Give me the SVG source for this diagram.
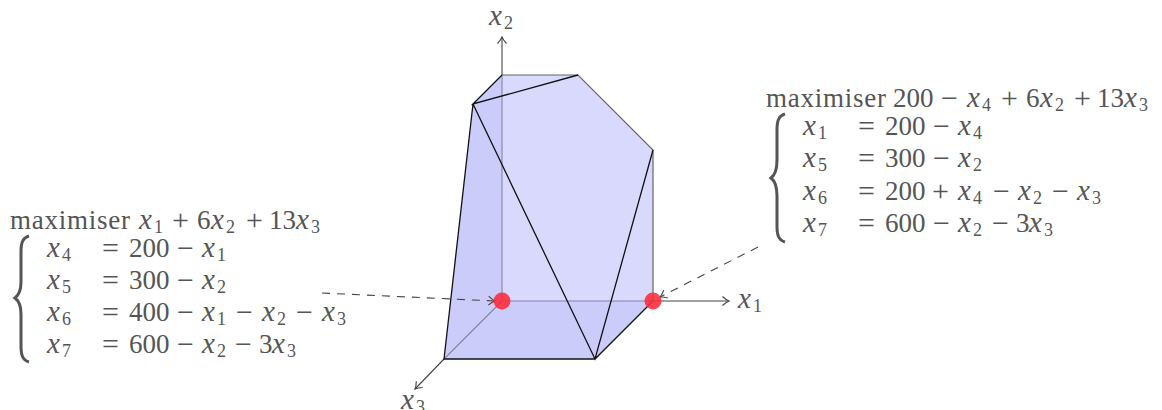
<svg xmlns="http://www.w3.org/2000/svg" width="1162" height="410" viewBox="0 0 1162 410">
<style>
text{font-family:"Liberation Serif",serif;fill:#555}
.r{font-size:27px}
.i{font-size:29px;font-style:italic}
.s{font-size:18px}
.o{font-size:30px;baseline-shift:-1px}
.ax{fill:none;stroke:#444;stroke-width:1.1}
.in{fill:none;stroke:#8484a4;stroke-width:1.1}
.e{fill:none;stroke:#111;stroke-width:1.3}
.g{fill:none;stroke:#666;stroke-width:1.2}
.d{fill:none;stroke:#444;stroke-width:1.1;stroke-dasharray:8 7}
.b{fill:none;stroke:#555;stroke-width:3}
.p{fill:#ff2a3a;fill-opacity:.88}
</style>
<defs>
<marker id="a" markerUnits="userSpaceOnUse" markerWidth="14" markerHeight="14" refX="10" refY="7" orient="auto">
<path d="M3.500 2.500Q7 5.800 10 7Q7 8.200 3.500 11.500" fill="none" stroke="#444" stroke-width="1.1"/>
</marker>
</defs>
<g id="polytope">
<polygon points="502,75 578,75 653,150 653,301 595,359 444,359 473,104" fill="#d9d9fd"/>
<polygon points="502,75 473,104 444,359 595,359 653,301 502,301" fill="#ccccfb"/>
</g>
<g id="connectors">
<path class="ax" d="M502 75V37" marker-end="url(#a)"/>
<path class="ax" d="M653 301H729" marker-end="url(#a)"/>
<path class="ax" d="M444 359L415 389" marker-end="url(#a)"/>
<path class="in" d="M502 75V301H653M502 301L444 359"/>
<path class="g" d="M502 75H578L653 150V301"/>
<path class="e" d="M502 75L473 104L578 75M473 104L595 359L653 150M473 104L444 359H595L653 301"/>
<path class="d" d="M322 293L495 301" marker-end="url(#a)"/>
<path class="d" d="M758 247L660 297" marker-end="url(#a)"/>
</g>
<g id="point-origin"><circle class="p" cx="502" cy="301" r="8.500"/></g>
<g id="point-x1"><circle class="p" cx="653" cy="301" r="8.500"/></g>
<g id="axis-labels">
<text><tspan class="i" x="489" y="25">x</tspan><tspan class="s" x="504" y="29">2</tspan></text>
<text><tspan class="i" x="738" y="308">x</tspan><tspan class="s" x="753" y="312">1</tspan></text>
<text><tspan class="i" x="401" y="409">x</tspan><tspan class="s" x="416" y="413">3</tspan></text>
</g>
<g id="left-system">
<text><tspan class="r" x="10" y="229" letter-spacing="0.750">maximiser</tspan><tspan class="i" x="139" y="229">x</tspan><tspan class="s" x="154" y="233">1</tspan><tspan class="o" x="172" y="229">+</tspan><tspan class="r" x="197" y="229">6</tspan><tspan class="i" x="211" y="229">x</tspan><tspan class="s" x="226" y="233">2</tspan><tspan class="o" x="246" y="229">+</tspan><tspan class="r" x="269" y="229">13</tspan><tspan class="i" x="296" y="229">x</tspan><tspan class="s" x="311" y="233">3</tspan></text>
<path class="b" d="M29 236C22 238 21 244 21 252V282C21 291 19 295 15 298C19 301 21 305 21 314V346C21 354 22 360 29 362"/>
<text><tspan class="i" x="47" y="257">x</tspan><tspan class="s" x="62" y="261">4</tspan><tspan class="o" x="102" y="257">=</tspan><tspan class="r" x="129" y="257">200</tspan><tspan class="o" x="177" y="257">−</tspan><tspan class="i" x="202" y="257">x</tspan><tspan class="s" x="217" y="261">1</tspan></text>
<text><tspan class="i" x="47" y="289">x</tspan><tspan class="s" x="62" y="293">5</tspan><tspan class="o" x="102" y="289">=</tspan><tspan class="r" x="129" y="289">300</tspan><tspan class="o" x="177" y="289">−</tspan><tspan class="i" x="202" y="289">x</tspan><tspan class="s" x="217" y="293">2</tspan></text>
<text><tspan class="i" x="47" y="321">x</tspan><tspan class="s" x="62" y="325">6</tspan><tspan class="o" x="102" y="321">=</tspan><tspan class="r" x="129" y="321">400</tspan><tspan class="o" x="177" y="321">−</tspan><tspan class="i" x="202" y="321">x</tspan><tspan class="s" x="217" y="325">1</tspan><tspan class="o" x="236" y="321">−</tspan><tspan class="i" x="262" y="321">x</tspan><tspan class="s" x="277" y="325">2</tspan><tspan class="o" x="296" y="321">−</tspan><tspan class="i" x="322" y="321">x</tspan><tspan class="s" x="337" y="325">3</tspan></text>
<text><tspan class="i" x="47" y="353">x</tspan><tspan class="s" x="62" y="357">7</tspan><tspan class="o" x="102" y="353">=</tspan><tspan class="r" x="129" y="353">600</tspan><tspan class="o" x="177" y="353">−</tspan><tspan class="i" x="202" y="353">x</tspan><tspan class="s" x="217" y="357">2</tspan><tspan class="o" x="235" y="353">−</tspan><tspan class="r" x="259" y="353">3</tspan><tspan class="i" x="272" y="353">x</tspan><tspan class="s" x="287" y="357">3</tspan></text>
</g>
<g id="right-system">
<text><tspan class="r" x="766" y="107" letter-spacing="0.750">maximiser</tspan><tspan class="r" x="893" y="107">200</tspan><tspan class="o" x="941" y="107">−</tspan><tspan class="i" x="967" y="107">x</tspan><tspan class="s" x="982" y="111">4</tspan><tspan class="o" x="1001" y="107">+</tspan><tspan class="r" x="1026" y="107">6</tspan><tspan class="i" x="1040" y="107">x</tspan><tspan class="s" x="1055" y="111">2</tspan><tspan class="o" x="1074" y="107">+</tspan><tspan class="r" x="1097" y="107">13</tspan><tspan class="i" x="1124" y="107">x</tspan><tspan class="s" x="1139" y="111">3</tspan></text>
<path class="b" d="M785 114C778 116 777 122 777 130V160C777 169 775 175 771 178C775 181 777 187 777 196V226C777 234 778 240 785 242"/>
<text><tspan class="i" x="803" y="135">x</tspan><tspan class="s" x="818" y="139">1</tspan><tspan class="o" x="858" y="135">=</tspan><tspan class="r" x="885" y="135">200</tspan><tspan class="o" x="933" y="135">−</tspan><tspan class="i" x="958" y="135">x</tspan><tspan class="s" x="973" y="139">4</tspan></text>
<text><tspan class="i" x="803" y="167">x</tspan><tspan class="s" x="818" y="171">5</tspan><tspan class="o" x="858" y="167">=</tspan><tspan class="r" x="885" y="167">300</tspan><tspan class="o" x="933" y="167">−</tspan><tspan class="i" x="958" y="167">x</tspan><tspan class="s" x="973" y="171">2</tspan></text>
<text><tspan class="i" x="803" y="200">x</tspan><tspan class="s" x="818" y="204">6</tspan><tspan class="o" x="858" y="200">=</tspan><tspan class="r" x="885" y="200">200</tspan><tspan class="o" x="932" y="200">+</tspan><tspan class="i" x="958" y="200">x</tspan><tspan class="s" x="973" y="204">4</tspan><tspan class="o" x="993" y="200">−</tspan><tspan class="i" x="1018" y="200">x</tspan><tspan class="s" x="1033" y="204">2</tspan><tspan class="o" x="1052" y="200">−</tspan><tspan class="i" x="1077" y="200">x</tspan><tspan class="s" x="1092" y="204">3</tspan></text>
<text><tspan class="i" x="803" y="232">x</tspan><tspan class="s" x="818" y="236">7</tspan><tspan class="o" x="858" y="232">=</tspan><tspan class="r" x="885" y="232">600</tspan><tspan class="o" x="933" y="232">−</tspan><tspan class="i" x="958" y="232">x</tspan><tspan class="s" x="973" y="236">2</tspan><tspan class="o" x="992" y="232">−</tspan><tspan class="r" x="1016" y="232">3</tspan><tspan class="i" x="1029" y="232">x</tspan><tspan class="s" x="1044" y="236">3</tspan></text>
</g>
</svg>
